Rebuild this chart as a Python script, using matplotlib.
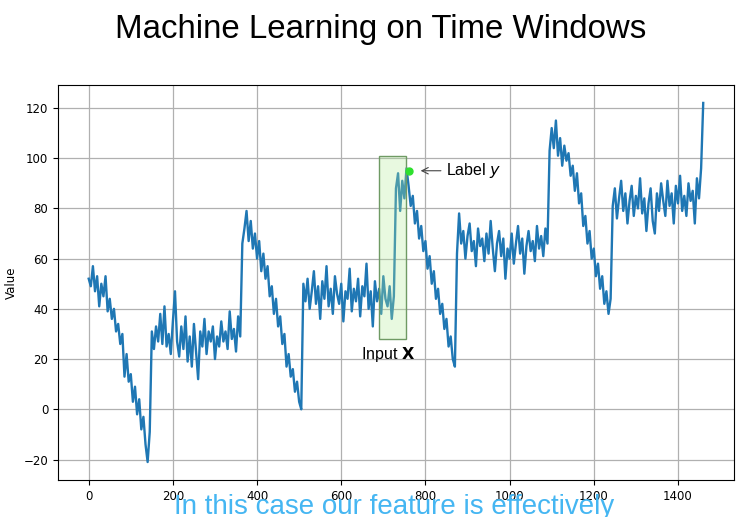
import matplotlib
matplotlib.use('Agg')
import matplotlib.pyplot as plt
import numpy as np
from matplotlib.patches import Rectangle

# Values, one sample every 5 time steps
season1 = [52, 49, 57, 47, 53, 41, 50, 45, 53, 39, 44, 36, 40, 31, 34, 26, 30, 13, 22, 11,
           14, 3, 9, -2, 4, -8, -3, -14, -21, -9]
plateau1 = [31, 24, 33, 27, 38, 26, 41, 25, 30, 22, 35, 47, 27, 21, 33, 24, 37, 19, 29, 17,
            34, 23, 12, 31, 25, 36, 22, 31, 27, 33, 20, 29, 25, 35, 27, 31, 24, 39, 28, 32,
            23, 37, 29]
season2 = [66, 72, 79, 67, 75, 64, 70, 60, 67, 55, 62, 52, 57, 45, 49, 38, 44, 33, 37, 26,
           30, 17, 22, 13, 16, 7, 11, 3, 0]
plateau2 = [50, 43, 52, 40, 47, 55, 42, 49, 36, 51, 44, 57, 41, 48, 38, 53, 46, 42, 50, 35,
            47, 44, 56, 39, 48, 43, 52, 37, 49, 45, 58, 40, 47, 33, 51, 43, 48, 38, 53, 44,
            41, 49, 36, 45]
season3 = [88, 94, 79, 91, 84, 96, 89, 81, 85, 74, 79, 68, 73, 63, 67, 56, 61, 50, 55, 44,
           48, 38, 42, 32, 36, 25, 29, 20, 17]
plateau3 = [62, 78, 66, 71, 60, 69, 74, 63, 67, 57, 72, 65, 68, 59, 70, 62, 75, 64, 55, 66,
            71, 61, 68, 52, 64, 60, 70, 58, 66, 73, 62, 68, 54, 65, 71, 63, 67, 59, 73, 64,
            69, 61, 72, 66]
season4 = [103, 112, 104, 115, 101, 108, 97, 105, 99, 102, 93, 97, 87, 94, 82, 86, 73, 77, 66, 71,
           60, 64, 53, 58, 48, 53, 42, 47, 38, 44]
plateau4 = [81, 88, 76, 84, 91, 79, 86, 74, 83, 89, 77, 85, 80, 92, 78, 84, 71, 82, 88, 75,
            70, 86, 79, 90, 83, 77, 91, 81, 86, 74, 89, 82, 93, 79, 85, 77, 90, 83, 87, 74,
            92, 84, 96, 122]

series = season1 + plateau1 + season2 + plateau2 + season3 + plateau3 + season4 + plateau4
time = np.arange(0, 1461, 5)

window_start, window_end = 690, 753
window_low, window_high = 28, 101
label_time, label_value = 760, 95

fig = plt.figure(figsize=(7.5, 5.17), dpi=100)
ax = fig.add_axes([0.0773, 0.0716, 0.9013, 0.764])

ax.plot(time, series, color='#1f77b4', lw=1.7)
ax.grid(True, color='#b0b0b0', lw=0.9)
ax.set_ylabel('Value', fontsize=8.5)
ax.tick_params(labelsize=8.5)
ax.set_yticks([-20, 0, 20, 40, 60, 80, 100, 120])
ax.set_xticks([0, 200, 400, 600, 800, 1000, 1200, 1400])

ax.add_patch(Rectangle((window_start, window_low), window_end - window_start,
                       window_high - window_low, facecolor=(0.7, 0.93, 0.6, 0.3),
                       edgecolor='#6f9a64', lw=1.0, zorder=3))
ax.plot([label_time], [label_value], 'o', color='#2ee02e', ms=5, zorder=4)

plt.rcParams['mathtext.fontset'] = 'dejavusans'
ax.annotate('Label $y$', xy=(label_time + 22, label_value), xytext=(850, label_value),
            ha='left', va='center', fontsize=11.5, family='Liberation Sans',
            arrowprops=dict(arrowstyle='->', color='#444444', lw=0.8))
ax.text(712, 22, 'Input $\\mathbf{X}$', ha='center', va='center', fontsize=11.5,
        family='Liberation Sans')

fig.text(0.508, 0.942, 'Machine Learning on Time Windows', ha='center', va='center',
         fontsize=23.8, family='Liberation Sans')
fig.text(0.525, -0.005, 'In this case our feature is effectively', ha='center', va='bottom',
         fontsize=20, color='#45b6f2', family=['Liberation Sans Narrow', 'Liberation Sans'])

fig.savefig('out.png', dpi=100)
